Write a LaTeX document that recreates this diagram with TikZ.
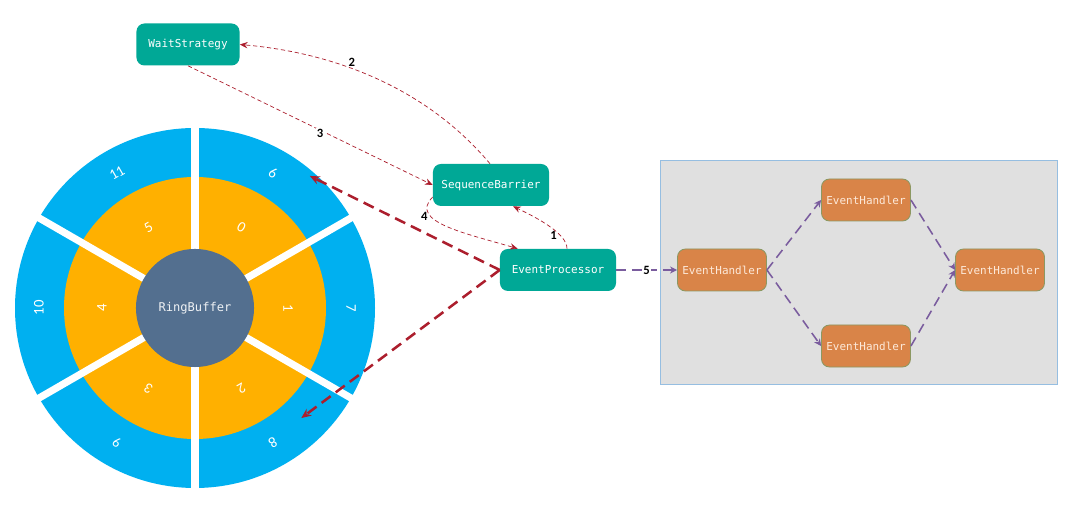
\documentclass[tikz,border=0pt]{standalone}
\usepackage{fontspec}
\setmainfont{Carlito}
\setmonofont{DejaVu Sans Mono}
\usetikzlibrary{arrows.meta}

\definecolor{ringblue}{RGB}{0,176,240}
\definecolor{ringorange}{RGB}{255,176,0}
\definecolor{hubslate}{RGB}{83,111,143}
\definecolor{procteal}{RGB}{0,168,150}
\definecolor{handlerfill}{RGB}{217,132,72}
\definecolor{handleredge}{RGB}{140,152,98}
\definecolor{handlertext}{RGB}{253,233,217}
\definecolor{panelgray}{RGB}{224,224,224}
\definecolor{paneledge}{RGB}{150,190,225}
\definecolor{flowred}{RGB}{172,30,45}
\definecolor{feedpurple}{RGB}{122,92,158}

\tikzset{
  proc/.style={rectangle, rounded corners=0.2cm, fill=procteal, text=white,
    font=\ttfamily\fontsize{7.8}{9}\selectfont, minimum height=1.05cm},
  handler/.style={rectangle, rounded corners=0.2cm, draw=handleredge, line width=0.6pt,
    fill=handlerfill, text=handlertext, font=\ttfamily\fontsize{7.8}{9}\selectfont,
    minimum width=2.225cm, minimum height=1.05cm},
  slotnum/.style={text=white, font=\fontsize{10.5}{12}\selectfont, inner sep=0pt},
  num/.style={text=black, font=\bfseries\fontsize{9}{10}\selectfont, inner sep=1pt},
  flow/.style={draw=flowred, line width=0.5pt, dash pattern=on 3pt off 2pt,
    -{Stealth[length=5.5pt,width=4.5pt]}},
  slotarrow/.style={draw=flowred, line width=1.8pt, dash pattern=on 8pt off 4.5pt,
    -{Stealth[length=7pt,width=6pt]}},
  feed/.style={draw=feedpurple, line width=1.1pt, dash pattern=on 7pt off 4pt,
    -{Stealth[length=5pt,width=5pt]}}
}

\begin{document}
\begin{tikzpicture}[x=0.025cm, y=0.025cm]
    \fill[white] (0,0) rectangle (1080,512);
    \useasboundingbox (0,0) rectangle (1080,512);

    % ring buffer
    \coordinate (rb) at (195,204);
    \fill[ringblue] (rb) circle[radius=180];
    \fill[ringorange] (rb) circle[radius=131];
    \foreach \a in {90,30,-30,-90,-150,150}
        \draw[white, line width=0.18cm] (rb) -- ++(\a:186);
    \node (hub) [circle, fill=hubslate, minimum size=2.95cm, text=white!90!hubslate,
        font=\ttfamily\fontsize{8.6}{10}\selectfont] at (rb) {RingBuffer};
    \foreach \k in {0,...,5} {
        \pgfmathsetmacro\ang{60-60*\k}
        \pgfmathtruncatemacro\outer{\k+6}
        \node (in\k) [slotnum, rotate=\ang-90] at ([shift={(\ang:93)}]rb) {\k};
        \node (out\k) [slotnum, rotate=\ang-90] at ([shift={(\ang:156)}]rb) {\outer};
    }
    \coordinate (tip6) at ([shift={(49:175)}]rb);
    \coordinate (tip8) at ([shift={(-46:153)}]rb);

    % processors
    \node (ws) [proc, minimum width=2.575cm] at (188,467.5) {WaitStrategy};
    \node (sb) [proc, minimum width=2.9cm] at (491,327) {SequenceBarrier};
    \node (ep) [proc, minimum width=2.9cm] at (558,242) {EventProcessor};

    % handler group
    \draw[draw=paneledge, fill=panelgray, line width=0.6pt] (660,128) rectangle (1057,352);
    \node (eh1) [handler] at (722,242) {EventHandler};
    \node (eh2) [handler] at (866,312) {EventHandler};
    \node (eh3) [handler] at (866,166) {EventHandler};
    \node (eh4) [handler] at (1000,242) {EventHandler};

    % numbered steps
    \draw[flow] ([xshift=0.225cm]ep.north) .. controls +(0,15) and +(25,-12) ..
        node[num, pos=0.3, left=1pt] {1} ([xshift=0.55cm]sb.south);
    \draw[flow] ([xshift=-0.025cm]sb.north) to[out=130, in=-5, looseness=0.9]
        node[num, pos=0.6, above] {2} (ws.east);
    \draw[flow] (ws.south) -- node[num, pos=0.54, fill=white, yshift=-0.08cm] {3} (sb.west);
    \draw[flow] ([yshift=-0.3cm]sb.west) .. controls +(-25,-25) and +(-50,15) ..
        node[num, pos=0.3, left=1pt] {4} ([xshift=0.45cm]ep.north west);
    \draw[slotarrow] (ep.west) -- (tip6);
    \draw[slotarrow] (ep.west) -- (tip8);
    \draw[feed] (ep.east) -- node[num, fill=white] {5} (eh1.west);
    \draw[feed] (eh1.east) -- (eh2.west);
    \draw[feed] (eh1.east) -- (eh3.west);
    \draw[feed] (eh2.east) -- (eh4.west);
    \draw[feed] (eh3.east) -- (eh4.west);
\end{tikzpicture}
\end{document}
